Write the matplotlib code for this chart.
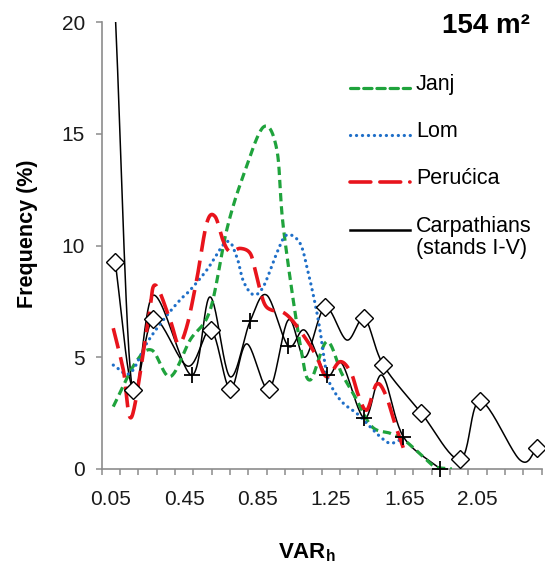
import numpy as np
import matplotlib
matplotlib.use("Agg")
import matplotlib.pyplot as plt
from matplotlib.lines import Line2D

plt.rcParams['font.family'] = ['Liberation Sans', 'DejaVu Sans']
plt.rcParams['mathtext.fontset'] = 'custom'
plt.rcParams['mathtext.rm'] = 'Liberation Sans'
plt.rcParams['mathtext.bf'] = 'Liberation Sans:bold'
plt.rcParams['lines.scale_dashes'] = False

# values (x = VAR_h, y = frequency %)
janj_x = [0.063, 0.182, 0.273, 0.373, 0.482, 0.591, 0.682, 0.771, 0.882, 0.955, 0.991,
          1.082, 1.136, 1.228, 1.309, 1.382, 1.473, 1.573, 1.64, 1.70, 1.76, 1.82, 1.91]
janj_y = [2.79, 4.73, 5.32, 4.13, 5.77, 7.1, 10.7, 13.1, 15.3, 14.3, 10.8,
          5.6, 3.98, 5.7, 4.28, 3.23, 1.9, 1.6, 1.35, 0.95, 0.5, 0.1, 0.0]

lom_x = [0.063, 0.154, 0.245, 0.336, 0.427, 0.482, 0.573, 0.682, 0.736, 0.773, 0.827, 0.882,
         0.955, 1.009, 1.082, 1.127, 1.164, 1.191, 1.227, 1.264, 1.318, 1.391, 1.446,
         1.518, 1.573, 1.627]
lom_y = [4.65, 4.28, 5.62, 6.67, 7.56, 8.0, 8.9, 10.17, 9.5, 8.4, 7.8, 8.16,
         9.66, 10.47, 10.1, 8.76, 7.4, 6.2, 4.28, 3.53, 2.94, 2.49, 2.04,
         1.45, 1.15, 1.3]

per_x = [0.063, 0.118, 0.164, 0.254, 0.291, 0.373, 0.418, 0.464, 0.518, 0.573, 0.618,
         0.663, 0.70, 0.755, 0.809, 0.837, 0.864, 0.891, 0.927, 0.982, 1.037, 1.118,
         1.173, 1.227, 1.30, 1.36, 1.40, 1.446, 1.50, 1.55, 1.60, 1.645]
per_y = [6.3, 4.43, 2.34, 6.67, 8.23, 6.67, 5.6, 6.37, 8.46, 11.0, 11.3,
         10.2, 9.72, 9.87, 9.66, 8.9, 8.0, 7.34, 7.11, 7.04, 6.67, 5.77,
         5.02, 4.13, 4.8, 4.3, 3.3, 2.64, 3.8, 3.3, 2.0, 0.95]

# Carpathian stands: one line marked with "+", one with diamonds
carp_plus_x = [0.076, 0.165, 0.282, 0.491, 0.591, 0.70, 0.809, 0.90, 1.018, 1.109,
               1.227, 1.309, 1.433, 1.528, 1.645, 1.846]
carp_plus_y = [20.0, 3.7, 7.78, 4.2, 7.7, 4.13, 6.6, 7.78, 5.5, 6.2,
               4.2, 4.73, 2.27, 4.2, 1.45, 0.0]
carp_plus_marked = [3, 6, 8, 10, 12, 14, 15]

carp_dia_x = [0.073, 0.172, 0.282, 0.47, 0.596, 0.70, 0.791, 0.913, 1.018, 1.109,
              1.218, 1.337, 1.433, 1.536, 1.742, 1.955, 2.064, 2.282, 2.376]
carp_dia_y = [9.28, 3.53, 6.70, 4.6, 6.22, 3.57, 5.6, 3.57, 6.67, 5.0,
              7.23, 5.77, 6.74, 4.65, 2.52, 0.43, 3.04, 0.4, 0.93]
carp_dia_marked = [0, 1, 2, 4, 5, 7, 10, 12, 13, 14, 15, 16, 18]

tick_labels = ["0.05", "0.45", "0.85", "1.25", "1.65", "2.05"]
tick_pos = [0.05, 0.45, 0.85, 1.25, 1.65, 2.05]


def smooth(xs, ys, n=24):
    # Catmull-Rom curve through the points, like Excel's smoothed line
    pts = np.column_stack([xs, ys]).astype(float)
    p = np.vstack([2 * pts[0] - pts[1], pts, 2 * pts[-1] - pts[-2]])
    t = np.linspace(0, 1, n, endpoint=False)[:, None]
    segs = []
    for i in range(1, len(p) - 2):
        p0, p1, p2, p3 = p[i - 1], p[i], p[i + 1], p[i + 2]
        segs.append(0.5 * (2 * p1 + (p2 - p0) * t
                           + (2 * p0 - 5 * p1 + 4 * p2 - p3) * t ** 2
                           + (3 * p1 - p0 - 3 * p2 + p3) * t ** 3))
    segs.append(pts[-1:])
    c = np.vstack(segs)
    return c[:, 0], c[:, 1]


GREEN = "#1fa33c"
BLUE = "#1f6fc8"
RED = "#e8141c"
GREY = "#8c8c8c"

fig = plt.figure(figsize=(5.45, 5.74), dpi=100)
ax = fig.add_axes([101.7 / 545, 105 / 574, 440 / 545, 447 / 574])

# Carpathians (black)
sx, sy = smooth(carp_dia_x, carp_dia_y)
ax.plot(sx, sy, color="black", lw=1.1, zorder=3)
ax.plot([carp_dia_x[i] for i in carp_dia_marked], [carp_dia_y[i] for i in carp_dia_marked],
        ls="none", marker="D", ms=9.5, mfc="white", mec="black", mew=1.0, zorder=6,
        clip_on=False)
sx, sy = smooth(carp_plus_x, carp_plus_y)
ax.plot(sx, sy, color="black", lw=1.1, zorder=3)
ax.plot([carp_plus_x[i] for i in carp_plus_marked], [carp_plus_y[i] for i in carp_plus_marked],
        ls="none", marker="+", ms=12, mec="black", mew=1.3, zorder=6, clip_on=False)

# Janj
sx, sy = smooth(janj_x, janj_y)
l, = ax.plot(sx, sy, color=GREEN, lw=2.3, zorder=4)
l.set_dashes([6, 3.5])
# Lom
sx, sy = smooth(lom_x, lom_y)
l, = ax.plot(sx, sy, color=BLUE, lw=2.3, zorder=4, dash_capstyle="round")
l.set_dashes([0.1, 4.2])
# Perucica
sx, sy = smooth(per_x, per_y)
l, = ax.plot(sx, sy, color=RED, lw=2.6, zorder=4)
l.set_dashes([15, 6.5])

ax.set_xlim(0, 2.4)
ax.set_ylim(0, 20)
for s in ["top", "right"]:
    ax.spines[s].set_visible(False)
for s in ["left", "bottom"]:
    ax.spines[s].set_color(GREY)
    ax.spines[s].set_linewidth(1.2)

ax.set_yticks([0, 5, 10, 15, 20])
ax.tick_params(axis="y", direction="out", length=4, width=1.1, color=GREY,
               labelsize=15, pad=8, labelcolor="#1a1a1a")
ax.set_xticks(tick_pos)
ax.set_xticklabels(tick_labels)
ax.set_xticks(np.arange(0, 2.41, 0.1), minor=True)
ax.tick_params(axis="x", which="major", length=0, labelsize=15, pad=15, labelcolor="#1a1a1a")
ax.tick_params(axis="x", which="minor", direction="out", length=4, width=1.1, color=GREY)

fig.text(28 / 545, 1 - 234 / 574, "Frequency (%)", rotation=90, ha="center", va="center",
         fontsize=15.5, fontweight="bold")
fig.text(307 / 545, 1 - 553 / 574, r"$\mathbf{VAR}_\mathbf{h}$", ha="center", va="center",
         fontsize=16)
fig.text(530 / 545, 1 - 26 / 574, "154 m²", ha="right", va="center",
         fontsize=20, fontweight="bold")

# legend, drawn by hand to sit where the original one does
legend_rows = [("Janj", GREEN, [6, 3.5], 88, 2.3),
               ("Lom", BLUE, [0.1, 4.2], 135, 2.3),
               ("Perućica", RED, [15, 6.5], 182, 2.6),
               ("Carpathians\n(stands I-V)", "black", None, 230, 1.8)]
for label, col, dash, ypx, lw in legend_rows:
    yf = 1 - ypx / 574
    ln = Line2D([350 / 545, 410 / 545], [yf, yf], transform=fig.transFigure,
                color=col, lw=lw, dash_capstyle="round")
    if dash is not None:
        ln.set_dashes(dash)
    fig.add_artist(ln)
    fig.text(416 / 545, yf + 0.024, label, ha="left", va="top", fontsize=15.5,
             linespacing=1.05)

fig.savefig("out.png", dpi=100)
